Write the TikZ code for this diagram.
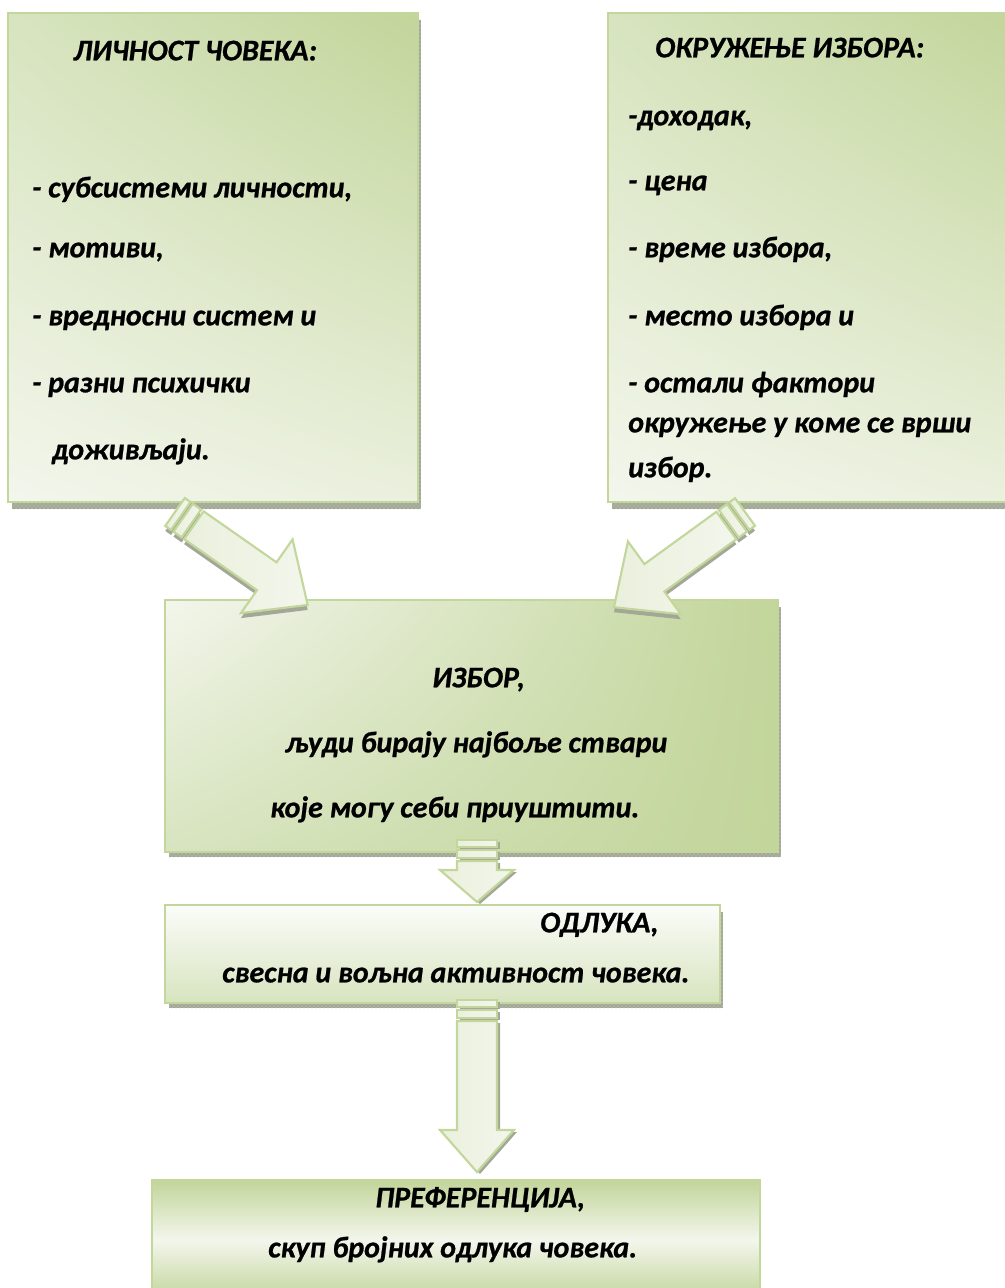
\documentclass[tikz,border=0pt]{standalone}
\usepackage{fontspec}
\setmainfont{Carlito}[BoldItalicFeatures={FakeBold=0.8}]
\usetikzlibrary{fit,patterns,shadings}
\definecolor{gborder}{HTML}{C3D69B}
\definecolor{gdark}{HTML}{C2D59A}
\definecolor{gmid}{HTML}{D7E4BF}
\definecolor{glight}{HTML}{EAF0DD}
\definecolor{gpale}{HTML}{F3F6EC}
\definecolor{gwhite}{HTML}{FBFCF9}
\definecolor{shadowc}{HTML}{A2A797}
\definecolor{shadowdot}{HTML}{D2D6C9}
\tikzset{
  boxframe/.style={draw=gborder, line width=2.2pt, inner sep=0pt},
  shadowstrip/.style={fill=shadowc, postaction={pattern=crosshatch dots, pattern color=shadowdot}},
  lbl/.style={anchor=west, inner sep=0pt, font=\fontsize{22.5}{26}\selectfont\bfseries\itshape, text height=15pt, text depth=4pt},
  arrowbody/.style={draw=gborder, line width=1.6pt, left color=glight, right color=gpale},
  arrowshadow/.style={fill=shadowc},
}
\begin{document}
\begin{tikzpicture}[x=0.75pt,y=-0.75pt]
\useasboundingbox (0,0) rectangle (1005,1288);
\clip (0,0) rectangle (1005,1288);

% ---------- shadows of boxes ----------
\fill[shadowstrip] (12,20) rectangle (421,509);
\fill[shadowstrip] (612,20) rectangle (1015,509);
\fill[shadowstrip] (169,607) rectangle (781,857);
\fill[shadowstrip] (169,912) rectangle (723,1008);

% ---------- boxes ----------
\node[boxframe, fit={(8,13) (418,502)}, upper left=gmid, upper right=gdark, lower left=gpale, lower right=glight] (L) {};
\node[boxframe, fit={(608,13) (1015,502)}, upper left=gmid, upper right=gdark, lower left=gpale, lower right=glight] (R) {};
\node[boxframe, fit={(165,600) (778,852)}, upper left=gpale, upper right=gdark, lower left=gmid, lower right=gdark] (C) {};
\node[boxframe, fit={(165,905) (720,1003)}, top color=gwhite, bottom color=gmid] (D) {};
\node[boxframe, fit={(152,1180) (760,1300)}, top color=gdark, bottom color=gdark, middle color=gpale] (P) {};

% ---------- left box text ----------
\node[lbl] (L0) at (73,53) {ЛИЧНОСТ ЧОВЕКА:};
\node[lbl] (L1) at (32,190) {- субсистеми личности,};
\node[lbl] (L2) at (32,250) {- мотиви,};
\node[lbl] (L3) at (32,318) {- вредносни систем и};
\node[lbl] (L4) at (32,385) {- разни психички};
\node[lbl] (L5) at (52,452) {доживљаји.};

% ---------- right box text ----------
\node[lbl] (R0) at (655,50) {ОКРУЖЕЊЕ ИЗБОРА:};
\node[lbl] (R1) at (628,118) {-доходак,};
\node[lbl] (R2) at (628,183) {- цена};
\node[lbl] (R3) at (628,250) {- време избора,};
\node[lbl] (R4) at (628,318) {- место избора и};
\node[lbl] (R5) at (628,385) {- остали фактори};
\node[lbl] (R6) at (628,425) {окружење у коме се врши};
\node[lbl] (R7) at (628,470) {избор.};

% ---------- centre boxes text ----------
\node[lbl] (C0) at (432,680) {ИЗБОР,};
\node[lbl] (C1) at (285,745) {људи бирају најбоље ствари};
\node[lbl] (C2) at (270,810) {које могу себи приуштити.};

\node[lbl] (D0) at (540,925) {ОДЛУКА,};
\node[lbl] (D1) at (222,975) {свесна и вољна активност човека.};

\node[lbl] (P0) at (375,1200) {ПРЕФЕРЕНЦИЈА,};
\node[lbl] (P1) at (268,1250) {скуп бројних одлука човека.};

% ---------- block arrows ----------
% left diagonal arrow: from L to C
\foreach \sx/\sy/\st in {0/5/arrowshadow, 0/0/arrowbody}{
\begin{scope}[shift={(175+\sx,512+\sy)}, rotate=-35]
  \path[\st] (0,-17) rectangle (7,17);
  \path[\st] (10,-17) rectangle (20,17);
  \path[\st] (23,-17) -- (112,-17) -- (112,-45) -- (162,0) -- (112,45) -- (112,17) -- (23,17) -- cycle;
\end{scope}}
% right diagonal arrow: from R to C
\foreach \sx/\sy/\st in {0/5/arrowshadow, 0/0/arrowbody}{
\begin{scope}[shift={(745+\sx,512+\sy)}, rotate=-144]
  \path[\st] (0,-17) rectangle (7,17);
  \path[\st] (10,-17) rectangle (20,17);
  \path[\st] (23,-17) -- (112,-17) -- (112,-45) -- (162,0) -- (112,45) -- (112,17) -- (23,17) -- cycle;
\end{scope}}
% down arrow C -> D
\foreach \sx/\sy/\st in {3/2/arrowshadow, 0/0/arrowbody}{
\begin{scope}[shift={(477+\sx,840+\sy)}]
  \path[\st] (-20,0) rectangle (20,7);
  \path[\st] (-20,10) rectangle (20,18);
  \path[\st] (-20,21) -- (-20,30) -- (-37,30) -- (0,62) -- (37,30) -- (20,30) -- (20,21) -- cycle;
\end{scope}}
% down arrow D -> P
\foreach \sx/\sy/\st in {3/2/arrowshadow, 0/0/arrowbody}{
\begin{scope}[shift={(477+\sx,1000+\sy)}]
  \path[\st] (-20,0) rectangle (20,7);
  \path[\st] (-20,10) rectangle (20,18);
  \path[\st] (-20,21) -- (-20,130) -- (-37,130) -- (0,172) -- (37,130) -- (20,130) -- (20,21) -- cycle;
\end{scope}}
\end{tikzpicture}
\end{document}
